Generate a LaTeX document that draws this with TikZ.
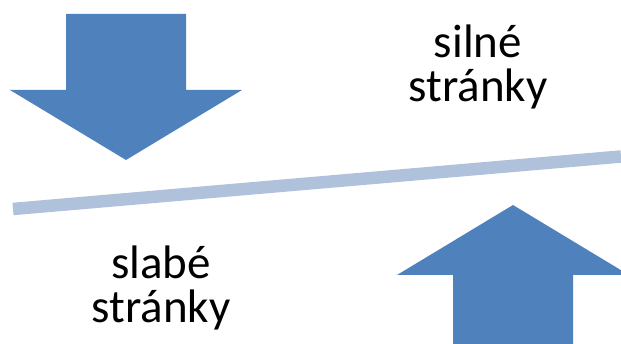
\documentclass[tikz,border=0pt]{standalone}
\usepackage{fontspec}
\setmainfont{Carlito}
\definecolor{arrowblue}{HTML}{4F81BD}
\definecolor{lineblue}{HTML}{B0C1DC}
\tikzset{
  bigarrow/.style={fill=arrowblue, draw=none},
  label/.style={align=center, font=\fontsize{47}{44}\selectfont, inner sep=0pt},
}
\begin{document}
\begin{tikzpicture}[x=1pt,y=-1pt]
\useasboundingbox (0,0) rectangle (621,344);
% down arrow
\fill[bigarrow] (66,14) -- (186,14) -- (186,90) -- (242,90) -- (126,160) -- (10,90) -- (66,90) -- cycle;
% balance line
\coordinate (L) at (13,209);
\coordinate (R) at (621,156.5);
\draw[lineblue, line width=12.5pt] (L) -- (R);
% up arrow
\fill[bigarrow] (453,344) -- (453,275) -- (397,275) -- (513,205) -- (629,275) -- (573,275) -- (573,344) -- cycle;
% texts
\node[label, anchor=base] (silne) at (478,102) {silné\\stránky};
\node[label, anchor=base] (slabe) at (161,323) {slabé\\stránky};
\end{tikzpicture}
\end{document}
